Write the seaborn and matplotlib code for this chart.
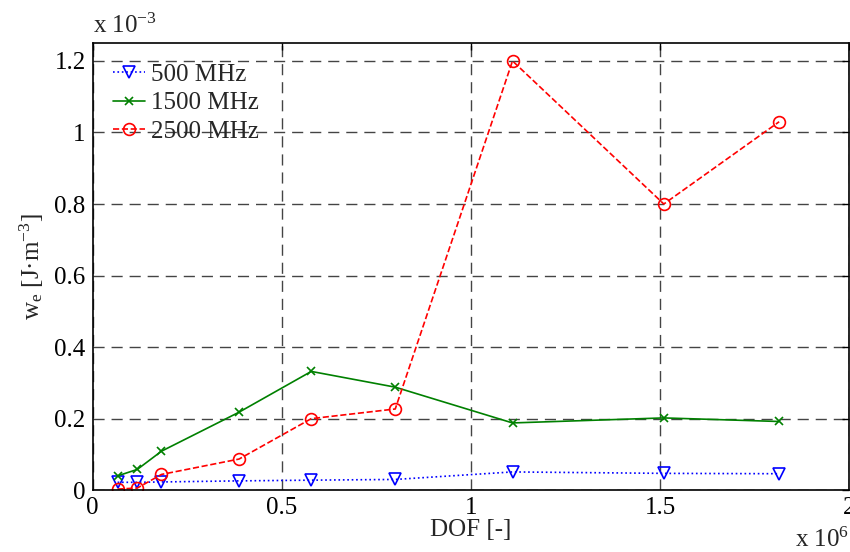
import matplotlib
matplotlib.use('Agg')
import numpy as np
import pandas as pd
import matplotlib.pyplot as plt
import seaborn as sns

# ── Data (DOF in 1e6, w_e in 1e-3 J/m^3) ───────────────────────────────
dof = [0.066, 0.118, 0.182, 0.387, 0.578, 0.80, 1.11, 1.51, 1.815]
we_500 = [0.022, 0.022, 0.023, 0.026, 0.028, 0.030, 0.051, 0.047, 0.046]
we_1500 = [0.040, 0.058, 0.109, 0.218, 0.332, 0.288, 0.188, 0.202, 0.192]
we_2500 = [0.003, 0.006, 0.044, 0.087, 0.200, 0.227, 1.200, 0.800, 1.030]
labels = ['500 MHz', '1500 MHz', '2500 MHz']

sns.set_style('white')
plt.rcParams['font.family'] = ['Liberation Serif', 'DejaVu Serif']
plt.rcParams['mathtext.fontset'] = 'custom'
plt.rcParams['mathtext.rm'] = 'Liberation Serif'
plt.rcParams['mathtext.it'] = 'Liberation Serif:italic'
plt.rcParams['mathtext.default'] = 'regular'
FS = 18
plt.rcParams['font.size'] = FS

fig = plt.figure(figsize=(8.5, 5.52), dpi=100)
ax = fig.add_axes([0.109, 0.112, 0.890, 0.810])

df = pd.DataFrame({'DOF': dof, '500': we_500, '1500': we_1500, '2500': we_2500})

styles = [
    ('500', labels[0], 'blue', ':', 'v', 8.5, 'none'),
    ('1500', labels[1], 'green', '-', 'x', 6, 'green'),
    ('2500', labels[2], 'red', '--', 'o', 8.5, 'none'),
]
for col, lab, c, ls, mk, ms, mfc in styles:
    sns.lineplot(data=df, x='DOF', y=col, ax=ax, color=c, linestyle=ls,
                 marker=mk, markersize=ms, markerfacecolor=mfc,
                 markeredgecolor=c, markeredgewidth=1.2, linewidth=1.2,
                 label=lab, sort=False)

ax.set_xlim(0, 2)
ax.set_ylim(0, 1.25)
ax.set_xticks([0, 0.5, 1, 1.5, 2])
ax.set_xticklabels(['0', '0.5', '1', '1.5', '2'])
ax.set_yticks([0, 0.2, 0.4, 0.6, 0.8, 1.0, 1.2])
ax.set_yticklabels(['0', '0.2', '0.4', '0.6', '0.8', '1', '1.2'])
ax.tick_params(direction='in', length=5, width=1, top=True, right=True,
               labelsize=FS, pad=5, colors='black')
for s in ax.spines.values():
    s.set_color('black')
    s.set_linewidth(1.2)

ax.grid(True, color='#444444', linestyle=(0, (8, 5)), linewidth=1)
ax.set_axisbelow(True)

ax.set_xlabel('DOF [-]', fontsize=FS, labelpad=0)
ax.set_ylabel('w$_e$ [J·m$^{-3}$]', fontsize=FS, labelpad=6)

fig.text(0.109, 0.932, 'x 10$^{-3}$', fontsize=FS, ha='left', va='bottom')
fig.text(0.935, 0.0, 'x 10$^{6}$', fontsize=FS, ha='left', va='bottom')

leg = ax.legend(loc='upper left', frameon=False, fontsize=FS, handlelength=1.3,
                handletextpad=0.25, labelspacing=0.25, borderaxespad=0.6,
                borderpad=0.2)

fig.savefig('out.png', dpi=100)
